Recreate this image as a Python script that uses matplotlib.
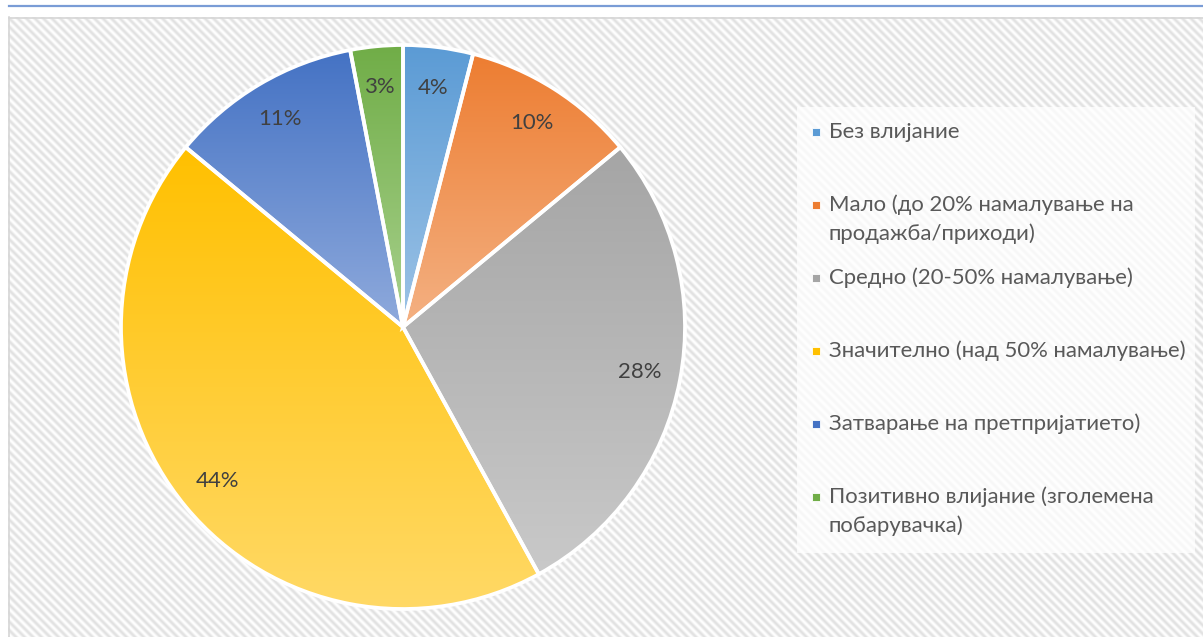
import numpy as np
import matplotlib
matplotlib.use('Agg')
import matplotlib.pyplot as plt
from matplotlib.colors import to_rgb
from matplotlib.patches import Rectangle
from matplotlib.lines import Line2D

labels = ["Без влијание",
          "Мало (до 20% намалување на\nпродажба/приходи)",
          "Средно (20-50% намалување)",
          "Значително (над 50% намалување)",
          "Затварање на претпријатието)",
          "Позитивно влијание (зголемена\nпобарувачка)"]
values = [4, 10, 28, 44, 11, 3]
top_colors = ['#5B9BD5', '#ED7D31', '#A5A5A5', '#FFC000', '#4472C4', '#70AD47']
bottom_colors = ['#9DC3E6', '#F4B183', '#C9C9C9', '#FFD966', '#8FAADC', '#A9D18E']

W, H = 1203, 637
DPI = 100
plt.rcParams['font.family'] = ['Lato', 'DejaVu Sans']
fig = plt.figure(figsize=(W / DPI, H / DPI), dpi=DPI)
FS = 15.9


def px_axes(x0, y0, w, h):
    return fig.add_axes([x0 / W, 1 - (y0 + h) / H, w / W, h / H])


def fx(x):
    return x / W


def fy(y):
    return 1 - y / H


# hatched chart-area background
bx0, by0 = 8, 17
bw, bh = W - bx0, H - by0
bg = px_axes(bx0, by0, bw, bh)
C, R = np.meshgrid(np.arange(bw), np.arange(bh))
P = 8.5
s = 0.5 + 0.5 * np.cos(2 * np.pi * (C - R) / P)
light = np.array([1.0, 1.0, 1.0])
dark = np.array(to_rgb('#E2E2E2'))
img = light * (1 - s[..., None]) + dark * s[..., None]
bg.imshow(img, extent=[0, bw, bh, 0], interpolation='nearest', aspect='auto')
bg.set_xlim(0, bw)
bg.set_ylim(bh, 0)
bg.axis('off')

# borders
fig.add_artist(Line2D([fx(9), fx(W)], [fy(5.5), fy(5.5)], color='#7A9CD6', lw=1.6))
fig.add_artist(Line2D([fx(8.5), fx(8.5)], [fy(17), fy(H)], color='#D6D6D6', lw=1.2))
fig.add_artist(Line2D([fx(8.5), fx(W)], [fy(17.5), fy(17.5)], color='#D6D6D6', lw=1.2))

# pie
cx, cy, r = 403, 327, 282
ax = px_axes(cx - r, cy - r, 2 * r, 2 * r)
wedges, texts, autotexts = ax.pie(
    values, startangle=90, counterclock=False, radius=1,
    autopct=lambda p: f'{p:.0f}%', pctdistance=0.855,
    wedgeprops=dict(edgecolor='white', linewidth=2.7),
    textprops=dict(color='#404040', fontsize=FS))
for w, tc, bc in zip(wedges, top_colors, bottom_colors):
    path = w.get_path().transformed(w.get_patch_transform())
    ext = path.get_extents()
    n = 256
    t = np.linspace(0, 1, n)[:, None, None]
    grad = np.array(to_rgb(tc))[None, None, :] * (1 - t) + np.array(to_rgb(bc))[None, None, :] * t
    im = ax.imshow(grad, extent=[ext.x0, ext.x1, ext.y0, ext.y1], origin='upper',
                   aspect='auto', interpolation='bilinear', zorder=0.5)
    im.set_clip_path(w)
    w.set_facecolor('none')
    w.set_zorder(1)
for t_ in autotexts:
    t_.set_zorder(3)
ax.set_xlim(-1, 1)
ax.set_ylim(-1, 1)
ax.set_aspect('equal')
ax.axis('off')

# legend
fig.add_artist(Rectangle((fx(797), fy(553)), fx(1195) - fx(797), fy(107) - fy(553),
                         transform=fig.transFigure, facecolor='white', alpha=0.75,
                         edgecolor='none'))
base_y, step, line_gap = 138, 73, 29
for i, (lab, c) in enumerate(zip(labels, top_colors)):
    y = base_y + i * step
    for j, line in enumerate(lab.split('\n')):
        fig.text(fx(829), fy(y + j * line_gap), line, fontsize=FS, color='#595959',
                 va='baseline', ha='left')
    fig.add_artist(Rectangle((fx(812), fy(y - 2)), 8 / W, 8 / H, transform=fig.transFigure,
                             facecolor=c, edgecolor='white', lw=0.6))

fig.savefig('out.png', dpi=DPI)
